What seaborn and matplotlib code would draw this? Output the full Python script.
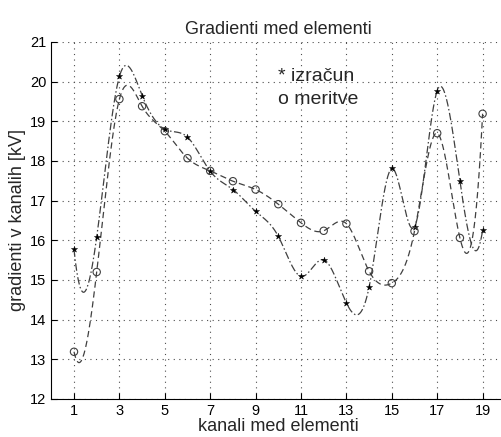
import numpy as np
import pandas as pd
import seaborn as sns
import matplotlib
matplotlib.use("Agg")
import matplotlib.pyplot as plt

# kanali 1..19
kanali = [1, 2, 3, 4, 5, 6, 7, 8, 9, 10, 11, 12, 13, 14, 15, 16, 17, 18, 19]
# izracun (*)
izracun = [15.77, 16.08, 20.13, 19.65, 18.8, 18.6, 17.74, 17.28, 16.73, 16.1,
           15.09, 15.51, 14.42, 14.82, 17.81, 16.34, 19.77, 17.5, 16.25]
# meritve (o)
meritve = [13.19, 15.2, 19.56, 19.38, 18.75, 18.07, 17.75, 17.49, 17.28, 16.91,
           16.44, 16.24, 16.42, 15.22, 14.92, 16.23, 18.7, 16.06, 19.19]
x_ticks = [1, 3, 5, 7, 9, 11, 13, 15, 17, 19]
y_ticks = [12, 13, 14, 15, 16, 17, 18, 19, 20, 21]


def spline_nak(x, y, xs):
    """not-a-knot cubic spline (like matlab spline)"""
    x = np.asarray(x, float)
    y = np.asarray(y, float)
    n = len(x)
    h = np.diff(x)
    A = np.zeros((n, n))
    b = np.zeros(n)
    for i in range(1, n - 1):
        A[i, i - 1] = h[i - 1]
        A[i, i] = 2 * (h[i - 1] + h[i])
        A[i, i + 1] = h[i]
        b[i] = 6 * ((y[i + 1] - y[i]) / h[i] - (y[i] - y[i - 1]) / h[i - 1])
    # third derivative continuous at x[1] and x[n-2]
    A[0, 0], A[0, 1], A[0, 2] = h[1], -(h[0] + h[1]), h[0]
    A[-1, -3], A[-1, -2], A[-1, -1] = h[-1], -(h[-2] + h[-1]), h[-2]
    M = np.linalg.solve(A, b)
    idx = np.clip(np.searchsorted(x, xs) - 1, 0, n - 2)
    x0, x1 = x[idx], x[idx + 1]
    hh = x1 - x0
    return (M[idx] * (x1 - xs) ** 3 / (6 * hh) + M[idx + 1] * (xs - x0) ** 3 / (6 * hh)
            + (y[idx] / hh - M[idx] * hh / 6) * (x1 - xs)
            + (y[idx + 1] / hh - M[idx + 1] * hh / 6) * (xs - x0))


sns.set_style("ticks")
plt.rcParams['font.family'] = ['Liberation Sans', 'DejaVu Sans']

fig = plt.figure(figsize=(5.02, 4.37), dpi=100)
ax = fig.add_axes([51.3 / 502, 0.087, 454 / 502, 0.817])

xs = np.linspace(1, 19, 600)
curves = pd.DataFrame({
    "x": xs,
    "izracun": spline_nak(kanali, izracun, xs),
    "meritve": spline_nak(kanali, meritve, xs),
})

sns.lineplot(data=curves, x="x", y="izracun", ax=ax, color="0.25", lw=0.9,
             dashes=False, estimator=None)
ax.lines[-1].set_dashes([6, 2, 1.2, 2])
sns.lineplot(data=curves, x="x", y="meritve", ax=ax, color="0.25", lw=0.9,
             dashes=False, estimator=None)
ax.lines[-1].set_dashes([5, 3])

pts = pd.DataFrame({"kanal": kanali, "izracun": izracun, "meritve": meritve})
sns.scatterplot(data=pts, x="kanal", y="izracun", ax=ax, marker="*", s=22,
                color="black", edgecolor="black", linewidth=0.3, zorder=5)
sns.scatterplot(data=pts, x="kanal", y="meritve", ax=ax, marker="o", s=28,
                facecolor="none", edgecolor="0.25", linewidth=0.8, zorder=5)

ax.set_xlim(0, 20)
ax.set_ylim(12, 21)
ax.set_xticks(x_ticks)
ax.set_yticks(y_ticks)
ax.tick_params(direction="in", length=4, labelsize=10.5, colors="black")
ax.grid(True, linestyle=(0, (1, 4)), color="0.3", linewidth=0.8)
sns.despine(ax=ax, top=True, right=True)
ax.spines['left'].set_color('black')
ax.spines['bottom'].set_color('black')

ax.text(10, 20.13, "* izračun", fontsize=14, va="center", ha="left")
ax.text(10, 19.55, "o meritve", fontsize=14, va="center", ha="left")

ax.set_title("Gradienti med elementi", fontsize=13, pad=6)
ax.set_xlabel("kanali med elementi", fontsize=13, labelpad=0)
ax.set_ylabel("gradienti v kanalih [kV]", fontsize=13, labelpad=3)

plt.savefig("out.png", dpi=100)
